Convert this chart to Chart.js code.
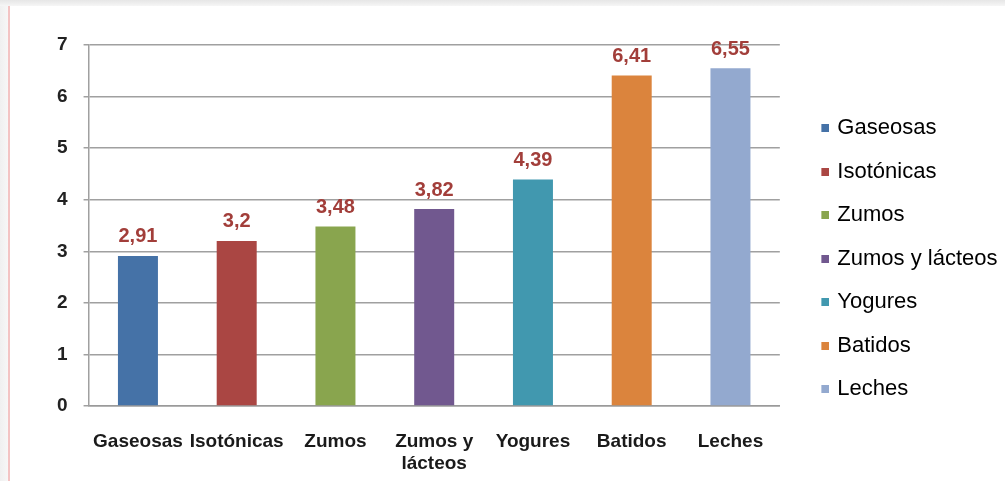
<!DOCTYPE html>
<html>
<head>
<meta charset="utf-8">
<script src="https://cdn.jsdelivr.net/npm/chart.js@4/dist/chart.umd.min.js"></script>
<style>
  html, body { margin: 0; padding: 0; background: #ffffff; }
  #wrap { position: relative; width: 1005px; height: 481px; overflow: hidden; background: #fff; }
  #topbar { position: absolute; left: 0; top: 0; width: 1005px; height: 6px; background: linear-gradient(#e6e6e6, #f6f6f6); }
  #leftbar { position: absolute; left: 0; top: 6px; width: 8px; height: 475px; background: linear-gradient(90deg, #f0f0f0, #f7f7f7); }
  #leftline { position: absolute; left: 8px; top: 6px; width: 2px; height: 475px; background: #f3c4c4; }
  canvas { position: absolute; left: 0; top: 0; }
</style>
</head>
<body>
<div id="wrap">
  <div id="topbar"></div>
  <div id="leftbar"></div>
  <div id="leftline"></div>
  <canvas id="c" width="1005" height="481"></canvas>
</div>
<script>
const categories = ["Gaseosas", "Isotónicas", "Zumos", "Zumos y lácteos", "Yogures", "Batidos", "Leches"];
const axisLabels = ["Gaseosas", "Isotónicas", "Zumos", ["Zumos y", "lácteos"], "Yogures", "Batidos", "Leches"];
const values = [2.91, 3.2, 3.48, 3.82, 4.39, 6.41, 6.55];
const colors = ["#4572A7", "#AA4643", "#89A54E", "#71588F", "#4198AF", "#DB843D", "#93A9CF"];
const yTicks = [0, 1, 2, 3, 4, 5, 6, 7];

// legend marker: 8x8 square placed at the right end of the marker image
function legendMarker(color) {
  const cv = document.createElement('canvas');
  cv.width = 31; cv.height = 8;
  const g = cv.getContext('2d');
  g.fillStyle = color;
  g.fillRect(23, 0, 8, 8);
  return cv;
}

const valueLabels = {
  id: 'valueLabels',
  afterDatasetsDraw(chart) {
    const ctx = chart.ctx;
    const meta = chart.getDatasetMeta(0);
    ctx.save();
    ctx.font = 'bold 20px "Liberation Sans", Arial, sans-serif';
    ctx.fillStyle = '#A23E3A';
    ctx.textAlign = 'center';
    ctx.textBaseline = 'middle';
    meta.data.forEach((bar, i) => {
      ctx.fillText(String(values[i]).replace('.', ','), bar.x, bar.y - 19);
    });
    ctx.restore();
  }
};

new Chart(document.getElementById('c'), {
  type: 'bar',
  data: {
    labels: axisLabels,
    datasets: [{
      data: values,
      backgroundColor: colors,
      borderWidth: 0,
      categoryPercentage: 1.0,
      barPercentage: 0.405
    }]
  },
  options: {
    responsive: false,
    animation: false,
    layout: { padding: { left: 41, top: 45, right: -2.5, bottom: 9 } },
    plugins: {
      tooltip: { enabled: false },
      legend: {
        position: 'right',
        labels: {
          usePointStyle: true,
          pointStyleWidth: 25,
          boxHeight: 8,
          padding: 21.5,
          color: '#262626',
          font: { size: 22, family: '"Liberation Sans", Arial, sans-serif' },
          generateLabels() {
            return categories.map((c, i) => ({
              text: c,
              fillStyle: colors[i],
              strokeStyle: colors[i],
              lineWidth: 0,
              pointStyle: legendMarker(colors[i]),
              hidden: false,
              index: i
            }));
          }
        },
        onClick() {}
      }
    },
    scales: {
      x: {
        grid: { display: false, drawTicks: false },
        border: { display: true, color: '#9a9a9a', width: 1.5 },
        ticks: {
          color: '#1a1a1a',
          padding: 24,
          maxRotation: 0,
          autoSkip: false,
          font: { size: 19, weight: 'bold', family: '"Liberation Sans", Arial, sans-serif', lineHeight: 1.2 }
        },
        afterFit(s) { s.height = 66; }
      },
      y: {
        min: 0,
        max: 7,
        afterBuildTicks(s) { s.ticks = yTicks.map(v => ({ value: v })); },
        grid: { color: '#a0a0a0', lineWidth: 1.5, tickLength: 5, drawTicks: true },
        border: { display: true, color: '#a0a0a0', width: 1.5 },
        ticks: {
          color: '#222',
          padding: 16,
          font: { size: 19, weight: 'bold', family: '"Liberation Sans", Arial, sans-serif' }
        }
      }
    }
  },
  plugins: [valueLabels]
});
</script>
</body>
</html>
